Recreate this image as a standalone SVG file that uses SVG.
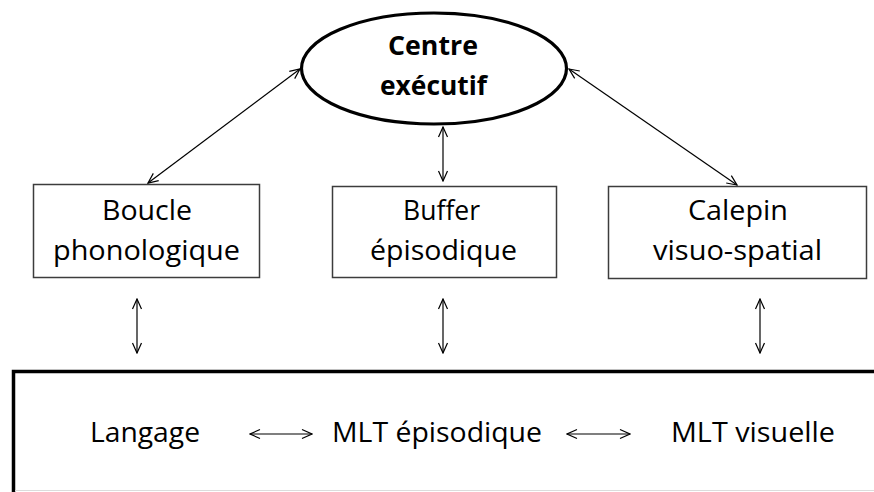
<svg xmlns="http://www.w3.org/2000/svg" width="874" height="492" viewBox="0 0 874 492">
  <style>
    .t { font-family: "Open Sans", "Liberation Sans", sans-serif; font-size: 27px; fill: #000; text-anchor: middle; }
    .b { font-weight: bold; }
    .box { fill: #fff; stroke: #3c3c3c; stroke-width: 1.5; }
    .arr { fill: none; stroke: #000; stroke-width: 1.2; marker-start: url(#ah); marker-end: url(#ah); }
  </style>
  <defs>
    <marker id="ah" viewBox="0 0 12 12" refX="11" refY="6" markerWidth="12" markerHeight="12" markerUnits="userSpaceOnUse" orient="auto-start-reverse">
      <path d="M1,1.5 L11,6 L1,10.5" fill="none" stroke="#000" stroke-width="1.2"/>
    </marker>
  </defs>
  <rect width="874" height="492" fill="#fff"/>

  <g id="ltm">
    <path d="M13.5,492 L13.5,371.5 L874,371.5" fill="none" stroke="#000" stroke-width="3.5"/>
    <line x1="15" y1="490.5" x2="874" y2="490.5" stroke="#dcdcdc" stroke-width="1"/>
    <text class="t" x="145" y="442" textLength="110" lengthAdjust="spacingAndGlyphs">Langage</text>
    <text class="t" x="437" y="442" textLength="210" lengthAdjust="spacingAndGlyphs">MLT épisodique</text>
    <text class="t" x="753" y="442" textLength="164" lengthAdjust="spacingAndGlyphs">MLT visuelle</text>
  </g>

  <g id="central">
    <ellipse cx="434" cy="68.5" rx="132.5" ry="55.5" fill="#fff" stroke="#000" stroke-width="3.2"/>
    <text class="t b" x="433" y="55" textLength="90" lengthAdjust="spacingAndGlyphs">Centre</text>
    <text class="t b" x="433.5" y="95" textLength="107" lengthAdjust="spacingAndGlyphs">exécutif</text>
  </g>

  <g id="boucle">
    <rect class="box" x="33.5" y="184.5" width="226" height="93"/>
    <text class="t" x="147" y="220" textLength="90" lengthAdjust="spacingAndGlyphs">Boucle</text>
    <text class="t" x="146.5" y="260" textLength="187" lengthAdjust="spacingAndGlyphs">phonologique</text>
  </g>

  <g id="buffer">
    <rect class="box" x="332.5" y="186.5" width="224" height="91"/>
    <text class="t" x="441.5" y="220" textLength="77" lengthAdjust="spacingAndGlyphs">Buffer</text>
    <text class="t" x="443.5" y="260" textLength="147" lengthAdjust="spacingAndGlyphs">épisodique</text>
  </g>

  <g id="calepin">
    <rect class="box" x="608.5" y="186.5" width="258" height="92"/>
    <text class="t" x="738" y="220" textLength="100" lengthAdjust="spacingAndGlyphs">Calepin</text>
    <text class="t" x="737.5" y="260" textLength="169" lengthAdjust="spacingAndGlyphs">visuo-spatial</text>
  </g>

  <g id="connectors">
    <line class="arr" x1="148" y1="183" x2="300" y2="69"/>
    <line class="arr" x1="443" y1="127" x2="443" y2="181"/>
    <line class="arr" x1="569" y1="69" x2="737" y2="185"/>
    <line class="arr" x1="137" y1="299" x2="137" y2="353"/>
    <line class="arr" x1="443" y1="299" x2="443" y2="353"/>
    <line class="arr" x1="760" y1="299" x2="760" y2="353"/>
    <line class="arr" x1="250" y1="434" x2="312" y2="434"/>
    <line class="arr" x1="567" y1="434" x2="630" y2="434"/>
  </g>
</svg>
